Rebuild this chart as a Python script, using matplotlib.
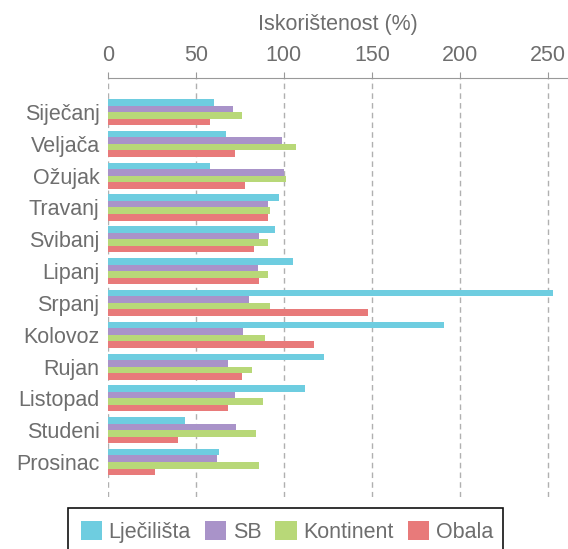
import numpy as np
import matplotlib.pyplot as plt
from matplotlib.patches import Rectangle

plt.rcParams['font.family'] = ['Liberation Sans', 'DejaVu Sans']

months = ['Siječanj', 'Veljača', 'Ožujak', 'Travanj', 'Svibanj', 'Lipanj',
          'Srpanj', 'Kolovoz', 'Rujan', 'Listopad', 'Studeni', 'Prosinac']
ljecilista = [60, 67, 58, 97, 95, 105, 253, 191, 123, 112, 44, 63]
sb = [71, 99, 100, 91, 86, 85, 80, 77, 68, 72, 73, 62]
kontinent = [76, 107, 101, 92, 91, 91, 92, 89, 82, 88, 84, 86]
obala = [58, 72, 78, 91, 83, 86, 148, 117, 76, 68, 40, 27]

series = [('Lječilišta', ljecilista, '#6ecde0'),
          ('SB', sb, '#a993c9'),
          ('Kontinent', kontinent, '#b8d878'),
          ('Obala', obala, '#e87a7a')]

grey = '#6e6e6e'
W, H = 568, 549
fig = plt.figure(figsize=(W / 100, H / 100), dpi=100)
ax = fig.add_axes([108 / W, 1 - 497 / H, 1 - 108 / W, (497 - 78) / H])

y = np.arange(len(months))
h = 0.205
for i, (name, vals, col) in enumerate(series):
    ax.barh(y + (i - 1.5) * h, vals, height=h, color=col, label=name,
            linewidth=0, zorder=3)

ax.set_xlim(0, 261.5)
ax.set_ylim(len(months) - 1 + 1.1, -1.07)
ax.set_xticks([0, 50, 100, 150, 200, 250])
ax.set_yticks(y)
ax.set_yticklabels(months)

ax.xaxis.tick_top()
ax.xaxis.set_label_position('top')
ax.set_xlabel('Iskorištenost (%)', color=grey, fontsize=15.5, labelpad=11)
ax.tick_params(axis='x', colors='#999999', labelcolor=grey, labelsize=15.5,
               length=4, pad=4.5)
ax.tick_params(axis='y', length=0, labelcolor=grey, labelsize=15.5, pad=6)

ax.grid(axis='x', color='#b0b0b0', linestyle=(0, (4, 3)), linewidth=1, zorder=0)
for s in ['left', 'right', 'bottom']:
    ax.spines[s].set_visible(False)
ax.spines['top'].set_color('#999999')

# legenda bez okvira, okvir se crta posebno (odrezan na dnu kao u originalu)
leg = fig.legend(loc='center', bbox_to_anchor=(0.505, 1 - 532 / H),
                 ncol=4, fontsize=15.5, frameon=False,
                 handlelength=1.0, handleheight=1.0, handletextpad=0.3,
                 columnspacing=0.65, borderpad=0.3, borderaxespad=0)
for t in leg.get_texts():
    t.set_color(grey)
fig.patches.append(Rectangle((68 / W, -10 / H), (503 - 68) / W, (H - 508 + 10) / H,
                             transform=fig.transFigure, fill=False,
                             edgecolor='#111111', linewidth=1.2))

fig.savefig('out.png', dpi=100)
